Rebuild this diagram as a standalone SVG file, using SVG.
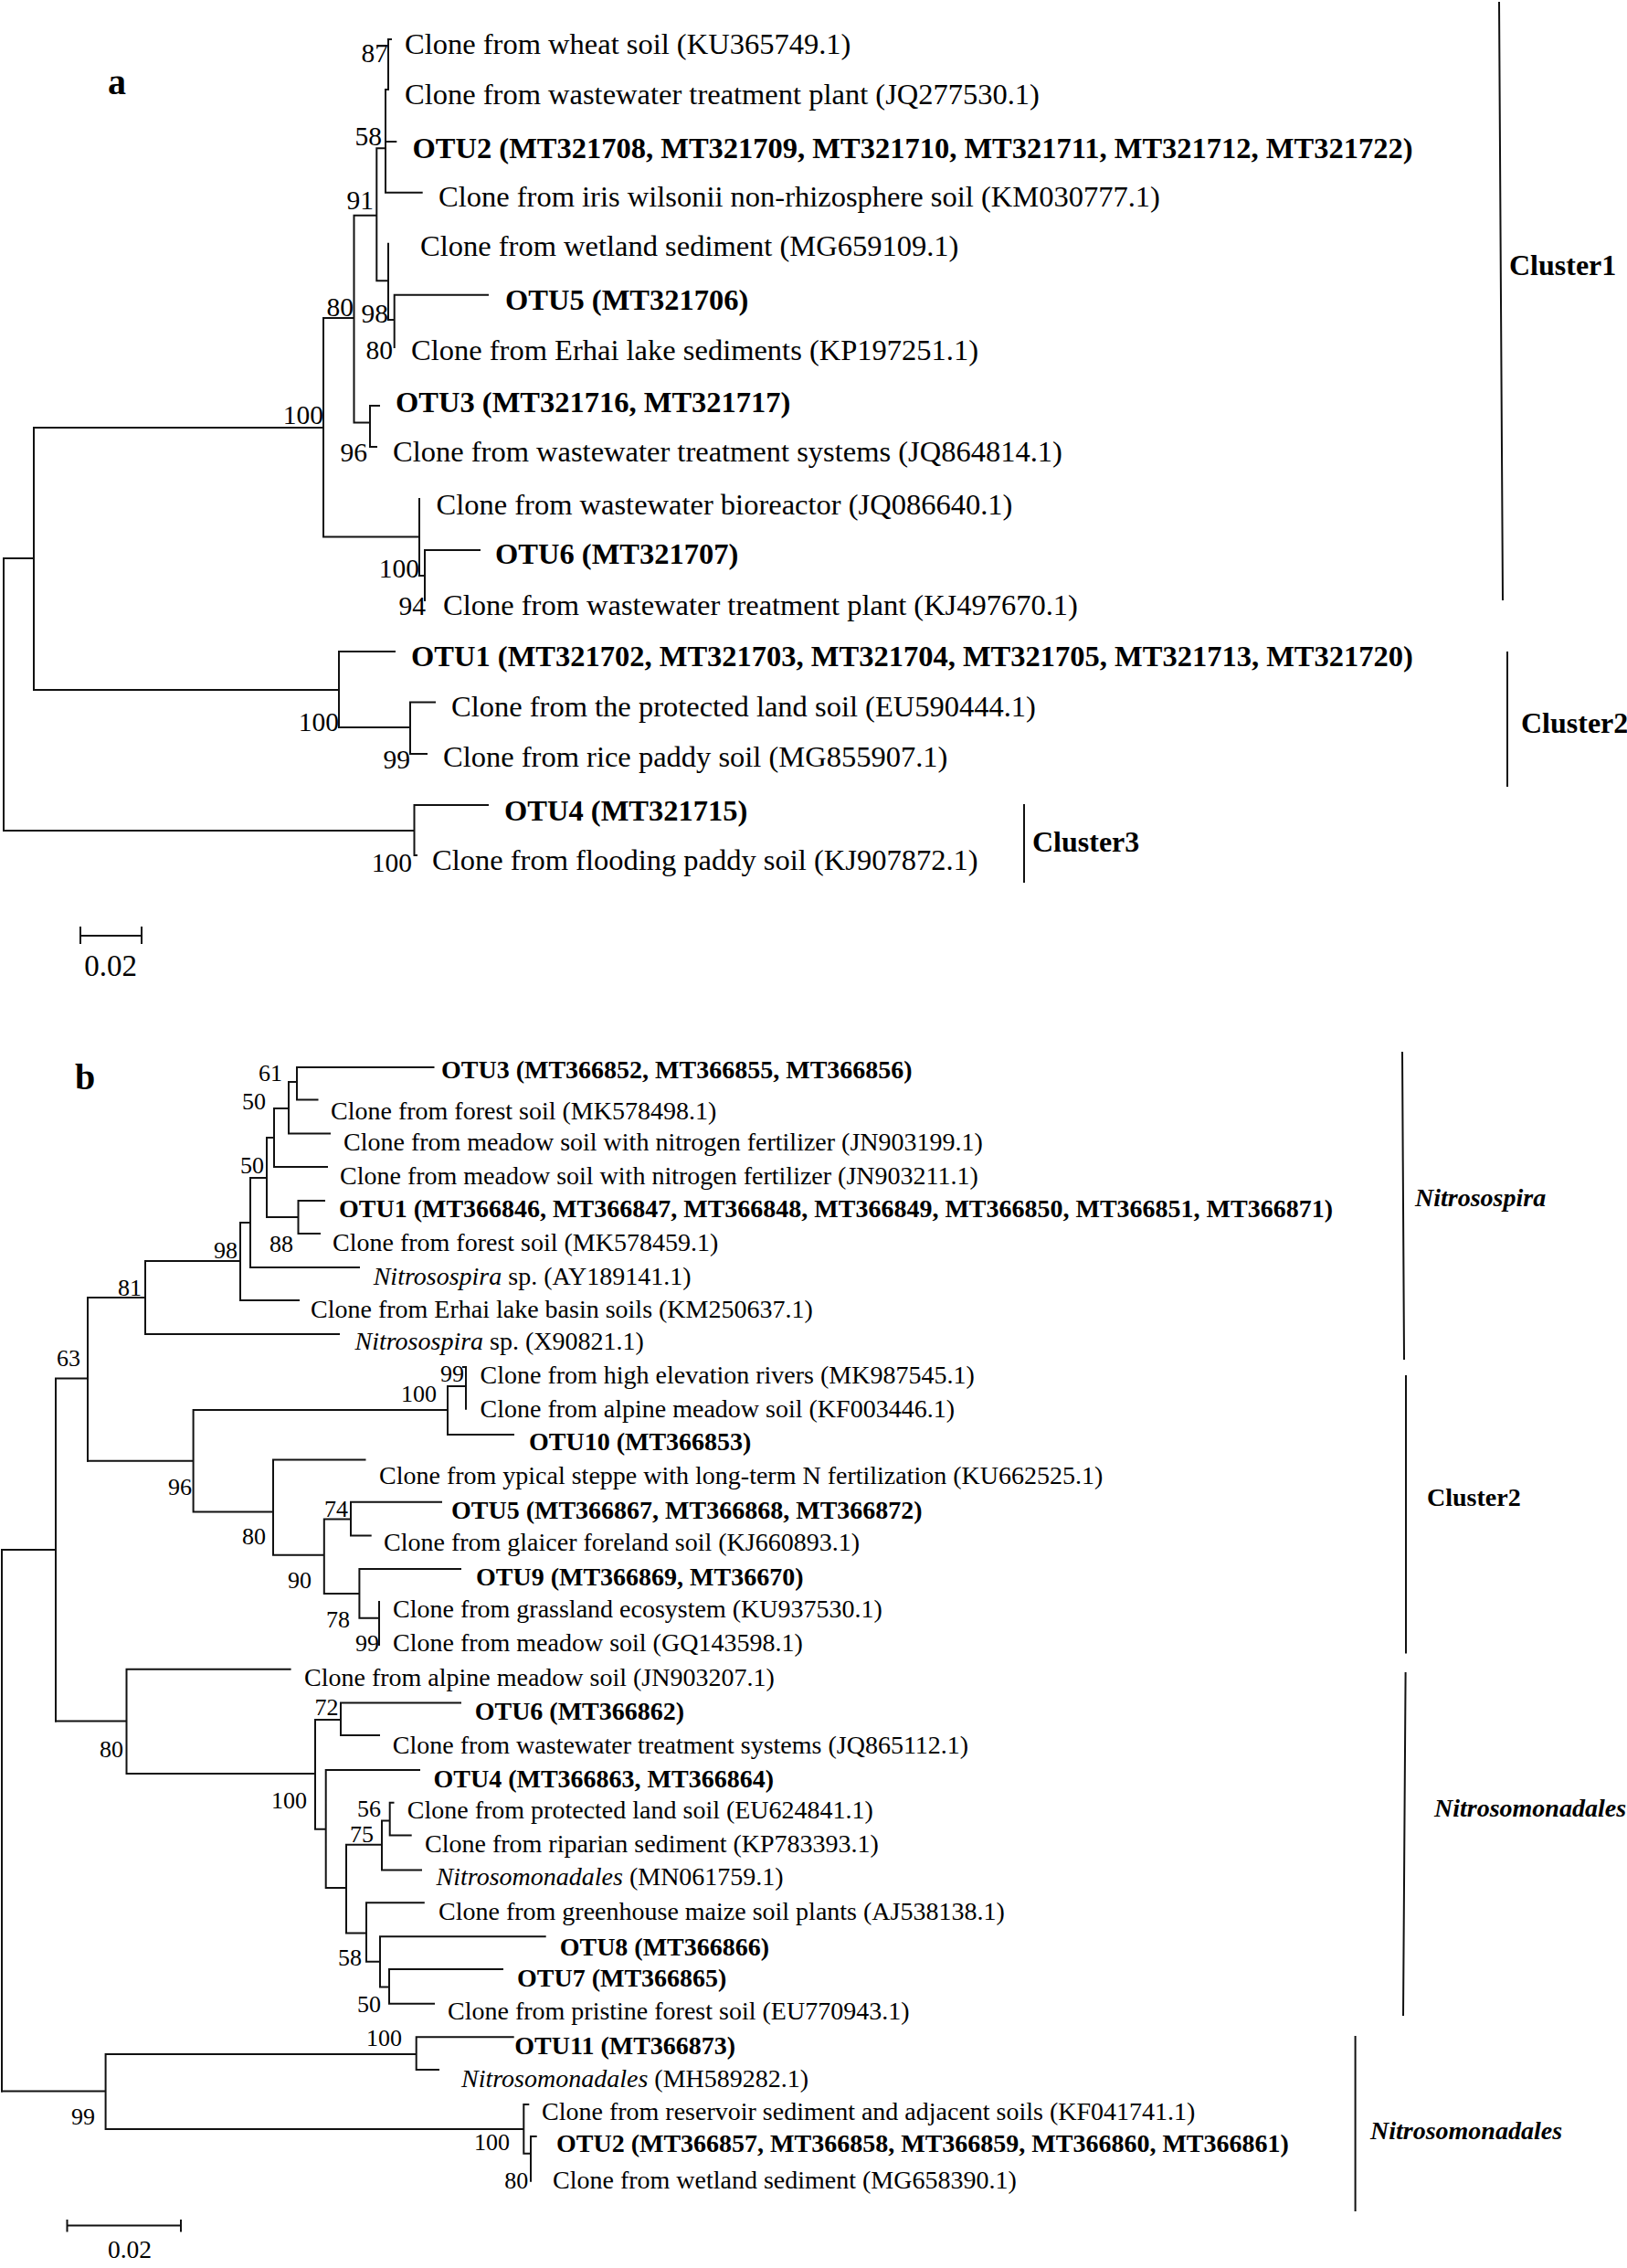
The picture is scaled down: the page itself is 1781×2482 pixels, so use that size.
<svg xmlns="http://www.w3.org/2000/svg" width="1781" height="2482" viewBox="0 0 1781 2482">
<style>
text{font-family:"Liberation Serif","Times New Roman",serif;fill:#000}
.la{font-size:32.5px}
.lb{font-size:28px}
.bold{font-weight:bold}
.it{font-style:italic}
.bsa{font-size:29.5px;text-anchor:end}
.bsb{font-size:26px;text-anchor:end}
.clA{font-size:32px;font-weight:bold}
.clB{font-size:28px;font-weight:bold}
.br{fill:none;stroke:#111;stroke-width:2;stroke-linecap:square}
.bar{fill:none;stroke:#111;stroke-width:2}
.panel{font-size:40px;font-weight:bold}
</style>
<rect width="1781" height="2482" fill="#fff"/>

<g id="connectors">
<path class="br" d="M4,611V909M4,611H37M37,468V755M37,468H354M354,348V587.5M354,348H387.5M387.5,235.7V462.5M387.5,235.7H412.3M412.3,162.3V307.3M412.3,162.3H422M422,98V210.7M422,98H425M425,43V98M425,43H428M422,155H433.3M422,210.7H461.7M412.3,307.3H425M425,266.7V350M425,350H431.7M431.7,322.7V380M431.7,322.7H534M387.5,462.5H405M405,444V489M405,444H415M405,489H412M354,587.5H459M459,546V630M459,630H465M465,602V657M465,602H525M37,755H371M371,713V796M371,713H432M371,796H449M449,768.5V825M449,768.5H476M449,825H467M4,909H453.5M453.5,881V936M453.5,881H534M453.5,936H456"/>
<path class="br" d="M88,1024H155M88,1015V1032M155,1015V1032"/>
<path class="br" d="M2,1696V2288.5M2,1696H61M61,1508.5V1883.4M61,1508.5H96M96,1420V1598.7M96,1420H159M159,1380V1460M159,1460H371M159,1380H263M263,1338V1423M263,1423H327M263,1338H274M274,1289V1387M274,1387H393M274,1289H292M292,1245V1332M292,1332H326.5M326.5,1314V1350M326.5,1314H355M326.5,1350H350M292,1245H300M300,1213V1277M300,1277H358M300,1213H316M316,1184V1240.6M316,1240.6H361M316,1184H325M325,1168V1203.6M325,1168H474.5M325,1203.6H347.5"/>
<path class="br" d="M96,1598.7H211.6M211.6,1543V1654.5M211.6,1543H490M490,1517V1570M490,1570H562M490,1517H510M510,1496V1541.7M507,1496H510M211.6,1654.5H299M299,1597.5V1701.8M299,1597.5H399.5M299,1701.8H354.8M354.8,1662.5V1744M354.8,1662.5H384M384,1643.75V1680.4M384,1643.75H483M384,1680.4H405.7M354.8,1744H393.4M393.4,1717V1770.7M393.4,1717H504M393.4,1770.7H415M415,1753V1800"/>
<path class="br" d="M61,1883.4H138.5M138.5,1826.8V1941M138.5,1826.8H317.6M138.5,1941H345M345,1882V2001.7M345,1882H373M373,1863.6V1899M373,1863.6H504M373,1899H415M345,2001.7H356.7M356.7,1937V2066M356.7,1937H459M356.7,2066H379M379,2018.7V2115.4M379,2018.7H418M418,1992.5V2046.4M418,2046.4H461M418,1992.5H426.7M426.7,1972.7V2008.6M426.7,1972.7H430.5M426.7,2008.6H449.7M379,2115.4H401M401,2082.3V2146.7M401,2082.3H463.8M401,2146.7H416M416,2119.3V2174.4M416,2119.3H596.7M416,2174.4H426M426,2155V2192.7M426,2155H550M426,2192.7H475"/>
<path class="br" d="M2,2288.5H115.6M115.6,2248V2330M115.6,2248H455.7M455.7,2229.3V2265M455.7,2229.3H561.7M455.7,2265H480M115.6,2330H573.3M573.3,2303V2356.7M573.3,2303H578.3M573.3,2356.7H581M581,2338V2386.7M581,2338H586.7"/>
<path class="br" d="M73.5,2435.4H198M73.5,2430V2441.4M198,2430V2441.4"/>
<path class="bar" d="M1641,2L1645,657M1650,713V861M1121,880V966"/>
<path class="bar" d="M1535,1151L1537,1488M1539,1505V1809.5M1538.6,1830L1536,2206M1483.6,2228V2420"/>
</g>

<g id="panel-labels">
<text class="panel" x="118" y="103">a</text>
<text class="panel" x="82" y="1192">b</text>
</g>

<g id="scale-a"><text class="la" x="121" y="1068" text-anchor="middle" style="font-size:33px">0.02</text></g>
<g id="scale-b"><text class="lb" x="142" y="2471" text-anchor="middle" style="font-size:27.5px">0.02</text></g>

<g id="leaves-a" class="la">
<g id="a-KU365749"><text x="443" y="59">Clone from wheat soil (KU365749.1)</text></g>
<g id="a-JQ277530"><text x="443" y="114">Clone from wastewater treatment plant (JQ277530.1)</text></g>
<g id="a-OTU2"><text class="bold" x="451.5" y="173">OTU2 (MT321708, MT321709, MT321710, MT321711, MT321712, MT321722)</text></g>
<g id="a-KM030777"><text x="480" y="226">Clone from iris wilsonii non-rhizosphere soil (KM030777.1)</text></g>
<g id="a-MG659109"><text x="460" y="280">Clone from wetland sediment (MG659109.1)</text></g>
<g id="a-OTU5"><text class="bold" x="553" y="338.5">OTU5 (MT321706)</text></g>
<g id="a-KP197251"><text x="450" y="393.6">Clone from Erhai lake sediments (KP197251.1)</text></g>
<g id="a-OTU3"><text class="bold" x="433" y="450.7">OTU3 (MT321716, MT321717)</text></g>
<g id="a-JQ864814"><text x="430" y="505">Clone from wastewater treatment systems (JQ864814.1)</text></g>
<g id="a-JQ086640"><text x="477.5" y="562.5">Clone from wastewater bioreactor (JQ086640.1)</text></g>
<g id="a-OTU6"><text class="bold" x="542" y="617">OTU6 (MT321707)</text></g>
<g id="a-KJ497670"><text x="485" y="673">Clone from wastewater treatment plant (KJ497670.1)</text></g>
<g id="a-OTU1"><text class="bold" x="450" y="729">OTU1 (MT321702, MT321703, MT321704, MT321705, MT321713, MT321720)</text></g>
<g id="a-EU590444"><text x="494" y="784">Clone from the protected land soil (EU590444.1)</text></g>
<g id="a-MG855907"><text x="485" y="839">Clone from rice paddy soil (MG855907.1)</text></g>
<g id="a-OTU4"><text class="bold" x="552" y="898">OTU4 (MT321715)</text></g>
<g id="a-KJ907872"><text x="473" y="952">Clone from flooding paddy soil (KJ907872.1)</text></g>
</g>

<g id="bootstrap-a" class="bsa">
<text x="425" y="68">87</text>
<text x="418" y="159">58</text>
<text x="409" y="229">91</text>
<text x="387" y="346">80</text>
<text x="425" y="353">98</text>
<text x="430" y="393">80</text>
<text x="354" y="464">100</text>
<text x="402" y="505">96</text>
<text x="459" y="632">100</text>
<text x="466" y="673">94</text>
<text x="371" y="800">100</text>
<text x="449" y="841">99</text>
<text x="451" y="953.5">100</text>
</g>

<g id="clusters-a">
<g id="a-cluster1"><text class="clA" x="1652" y="301">Cluster1</text></g>
<g id="a-cluster2"><text class="clA" x="1665" y="802">Cluster2</text></g>
<g id="a-cluster3"><text class="clA" x="1130" y="932">Cluster3</text></g>
</g>

<g id="leaves-b" class="lb">
<g id="b-OTU3"><text class="bold" x="483" y="1179.5">OTU3 (MT366852, MT366855, MT366856)</text></g>
<g id="b-MK578498"><text x="362" y="1225">Clone from forest soil (MK578498.1)</text></g>
<g id="b-JN903199"><text x="376" y="1258.5">Clone from meadow soil with nitrogen fertilizer (JN903199.1)</text></g>
<g id="b-JN903211"><text x="372" y="1296">Clone from meadow soil with nitrogen fertilizer (JN903211.1)</text></g>
<g id="b-OTU1"><text class="bold" x="371" y="1331.5">OTU1 (MT366846, MT366847, MT366848, MT366849, MT366850, MT366851, MT366871)</text></g>
<g id="b-MK578459"><text x="364" y="1369">Clone from forest soil (MK578459.1)</text></g>
<g id="b-AY189141"><text x="408.7" y="1406"><tspan class="it">Nitrosospira</tspan> sp. (AY189141.1)</text></g>
<g id="b-KM250637"><text x="340" y="1442">Clone from Erhai lake basin soils (KM250637.1)</text></g>
<g id="b-X90821"><text x="388.5" y="1477"><tspan class="it">Nitrosospira</tspan> sp. (X90821.1)</text></g>
<g id="b-MK987545"><text x="525.5" y="1514">Clone from high elevation rivers (MK987545.1)</text></g>
<g id="b-KF003446"><text x="525.5" y="1551">Clone from alpine meadow soil (KF003446.1)</text></g>
<g id="b-OTU10"><text class="bold" x="579" y="1587">OTU10 (MT366853)</text></g>
<g id="b-KU662525"><text x="415" y="1624">Clone from ypical steppe with long-term N fertilization (KU662525.1)</text></g>
<g id="b-OTU5"><text class="bold" x="494" y="1662">OTU5 (MT366867, MT366868, MT366872)</text></g>
<g id="b-KJ660893"><text x="420" y="1697">Clone from glaicer foreland soil (KJ660893.1)</text></g>
<g id="b-OTU9"><text class="bold" x="521" y="1735">OTU9 (MT366869, MT36670)</text></g>
<g id="b-KU937530"><text x="430" y="1770">Clone from grassland ecosystem (KU937530.1)</text></g>
<g id="b-GQ143598"><text x="430" y="1807">Clone from meadow soil (GQ143598.1)</text></g>
<g id="b-JN903207"><text x="333" y="1845">Clone from alpine meadow soil (JN903207.1)</text></g>
<g id="b-OTU6"><text class="bold" x="519.7" y="1882">OTU6 (MT366862)</text></g>
<g id="b-JQ865112"><text x="429.8" y="1918.8">Clone from wastewater treatment systems (JQ865112.1)</text></g>
<g id="b-OTU4"><text class="bold" x="474.5" y="1955.7">OTU4 (MT366863, MT366864)</text></g>
<g id="b-EU624841"><text x="445.8" y="1990">Clone from protected land soil (EU624841.1)</text></g>
<g id="b-KP783393"><text x="465" y="2027">Clone from riparian sediment (KP783393.1)</text></g>
<g id="b-MN061759"><text x="477.6" y="2063"><tspan class="it">Nitrosomonadales</tspan> (MN061759.1)</text></g>
<g id="b-AJ538138"><text x="480" y="2100.7">Clone from greenhouse maize soil plants (AJ538138.1)</text></g>
<g id="b-OTU8"><text class="bold" x="612.7" y="2140">OTU8 (MT366866)</text></g>
<g id="b-OTU7"><text class="bold" x="566" y="2174">OTU7 (MT366865)</text></g>
<g id="b-EU770943"><text x="490" y="2210">Clone from pristine forest soil (EU770943.1)</text></g>
<g id="b-OTU11"><text class="bold" x="563.3" y="2248">OTU11 (MT366873)</text></g>
<g id="b-MH589282"><text x="505" y="2283.5"><tspan class="it">Nitrosomonadales</tspan> (MH589282.1)</text></g>
<g id="b-KF041741"><text x="593" y="2320">Clone from reservoir sediment and adjacent soils (KF041741.1)</text></g>
<g id="b-OTU2"><text class="bold" x="609" y="2355">OTU2 (MT366857, MT366858, MT366859, MT366860, MT366861)</text></g>
<g id="b-MG658390"><text x="605" y="2395">Clone from wetland sediment (MG658390.1)</text></g>
</g>

<g id="bootstrap-b" class="bsb">
<text x="309" y="1182.6">61</text>
<text x="291" y="1214">50</text>
<text x="289" y="1284">50</text>
<text x="321" y="1370">88</text>
<text x="260" y="1377">98</text>
<text x="155" y="1418">81</text>
<text x="88" y="1495">63</text>
<text x="508" y="1511.6">99</text>
<text x="478" y="1534">100</text>
<text x="210" y="1636">96</text>
<text x="381" y="1660">74</text>
<text x="291" y="1690">80</text>
<text x="341" y="1738">90</text>
<text x="383" y="1781">78</text>
<text x="415" y="1807.4">99</text>
<text x="370.5" y="1877.4">72</text>
<text x="135" y="1923">80</text>
<text x="336" y="1978.7">100</text>
<text x="417" y="1988">56</text>
<text x="409" y="2015.5">75</text>
<text x="396" y="2151">58</text>
<text x="417" y="2202">50</text>
<text x="440" y="2238.8">100</text>
<text x="104" y="2325.4">99</text>
<text x="558" y="2353">100</text>
<text x="578.3" y="2395">80</text>
</g>

<g id="clusters-b">
<g id="b-nitrosospira"><text class="clB it" x="1549" y="1320">Nitrosospira</text></g>
<g id="b-cluster2"><text class="clB" x="1562" y="1648">Cluster2</text></g>
<g id="b-nitrosomonadales1"><text class="clB it" x="1570" y="1988.4">Nitrosomonadales</text></g>
<g id="b-nitrosomonadales2"><text class="clB it" x="1500" y="2341">Nitrosomonadales</text></g>
</g>
</svg>
